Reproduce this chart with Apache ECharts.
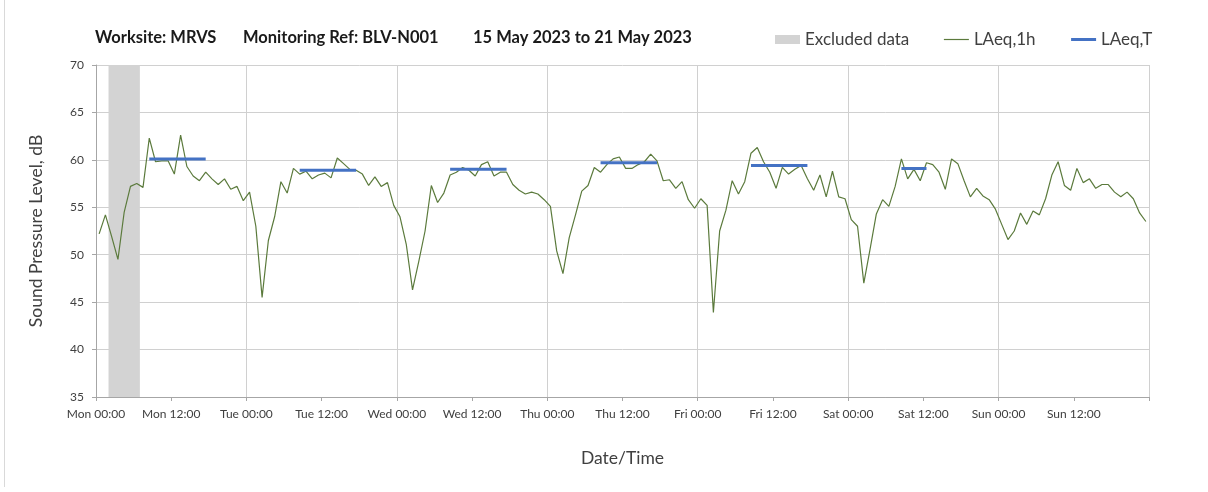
<!DOCTYPE html>
<html>
<head>
<meta charset="utf-8">
<title>Noise monitoring BLV-N001</title>
<script src="https://cdn.jsdelivr.net/npm/echarts@6/dist/echarts.min.js"></script>
<style>
  html, body { margin: 0; padding: 0; background: #fff; }
  #chart { width: 1208px; height: 492px; }
</style>
</head>
<body>
<div id="chart"></div>
<script>
'use strict';
// hourly LAeq,1h, Mon 00:00 .. Sun 23:00 (plotted at the middle of each hour)
var laeq1h = [
  52.2, 54.2, 51.9, 49.5, 54.5, 57.2, 57.5, 57.1, 62.3, 59.8, 59.9, 59.9, 58.5, 62.6, 59.3, 58.3, 57.8, 58.7, 58.0, 57.4, 58.0, 56.9, 57.2, 55.7,
  56.6, 53.0, 45.5, 51.5, 54.0, 57.7, 56.5, 59.1, 58.5, 58.8, 58.0, 58.4, 58.6, 58.1, 60.2, 59.6, 59.0, 58.9, 58.5, 57.3, 58.2, 57.2, 57.6, 55.2,
  54.0, 51.1, 46.3, 49.3, 52.5, 57.3, 55.5, 56.5, 58.4, 58.7, 59.2, 58.9, 58.3, 59.5, 59.8, 58.3, 58.7, 58.7, 57.4, 56.8, 56.4, 56.6, 56.4, 55.8,
  55.1, 50.4, 48.0, 51.8, 54.2, 56.7, 57.3, 59.2, 58.7, 59.5, 60.1, 60.3, 59.1, 59.1, 59.5, 59.8, 60.6, 59.9, 57.8, 57.9, 57.0, 57.7, 55.8, 54.9,
  55.9, 55.2, 43.9, 52.5, 54.7, 57.8, 56.4, 57.7, 60.7, 61.3, 59.8, 58.7, 57.0, 59.2, 58.5, 59.0, 59.4, 58.0, 56.8, 58.4, 56.1, 58.8, 56.1, 55.9,
  53.7, 53.0, 47.0, 50.6, 54.3, 55.8, 55.1, 57.2, 60.1, 58.0, 59.0, 57.8, 59.7, 59.5, 58.7, 56.9, 60.1, 59.6, 57.8, 56.1, 57.0, 56.2, 55.8, 54.8,
  53.2, 51.6, 52.5, 54.4, 53.2, 54.6, 54.2, 55.9, 58.4, 59.8, 57.3, 56.8, 59.1, 57.6, 58.0, 57.0, 57.4, 57.4, 56.6, 56.1, 56.6, 55.9, 54.4, 53.5
];

// LAeq,T for the working periods (hours from Mon 00:00)
var laeqT = [60.1, 58.9, 59.0, 59.7, 59.4, 59.1];
var periodStart = [8, 32, 56, 80, 104, 128];
var periodEnd = [18, 42, 66, 90, 114, 133];

// excluded period, hours from Mon 00:00
var excludedFrom = 2;
var excludedTo = 7;

var dayNames = ['Mon', 'Tue', 'Wed', 'Thu', 'Fri', 'Sat', 'Sun'];
var yTicks = [35, 40, 45, 50, 55, 60, 65, 70];

var fontName = 'Lato';
var textColor = '#404040';
var gridColor = '#d0d0d0';
var greenColor = '#5b7a3c';
var blueColor = '#4472c4';

var lineData = laeq1h.map(function (v, i) {
  return [i + 0.5, v];
});

var series = [{
  name: 'Excluded data',
  type: 'line',
  data: [],
  color: '#d3d3d3',
  markArea: {
    silent: true,
    itemStyle: { color: '#d3d3d3' },
    data: [[{ xAxis: excludedFrom }, { xAxis: excludedTo }]]
  }
}, {
  name: 'LAeq,1h',
  type: 'line',
  data: lineData,
  symbol: 'none',
  color: greenColor,
  lineStyle: { width: 1.2, color: greenColor },
  z: 3
}];

for (var p = 0; p < laeqT.length; p++) {
  series.push({
    name: 'LAeq,T',
    type: 'line',
    data: [[periodStart[p] + 0.5, laeqT[p]], [periodEnd[p] - 0.5, laeqT[p]]],
    symbol: 'none',
    color: blueColor,
    lineStyle: { width: 3, color: blueColor },
    z: 4
  });
}

var chart = echarts.init(document.getElementById('chart'));
chart.setOption({
  animation: false,
  backgroundColor: '#fff',
  textStyle: { fontFamily: fontName },
  title: {
    text: '{a|Worksite: MRVS}{b|Monitoring Ref: BLV-N001}{c|15 May 2023 to 21 May 2023}',
    left: 95,
    top: 29,
    padding: 0,
    textStyle: {
      fontFamily: fontName,
      fontSize: 16.5,
      fontWeight: 'bold',
      color: '#1a1a1a',
      rich: {
        a: { width: 148, fontFamily: fontName, fontSize: 16.5, fontWeight: 'bold', color: '#1a1a1a' },
        b: { width: 230, fontFamily: fontName, fontSize: 16.5, fontWeight: 'bold', color: '#1a1a1a' },
        c: { fontFamily: fontName, fontSize: 16.5, fontWeight: 'bold', color: '#1a1a1a' }
      }
    }
  },
  legend: {
    left: 775,
    top: 31,
    padding: 0,
    itemWidth: 25,
    itemHeight: 9,
    itemGap: 34,
    textStyle: { fontFamily: fontName, fontSize: 17, color: textColor },
    data: [
      { name: 'Excluded data', icon: 'rect' },
      { name: 'LAeq,1h', itemStyle: { opacity: 0 }, lineStyle: { width: 1.2, color: greenColor } },
      { name: 'LAeq,T', itemStyle: { opacity: 0 }, lineStyle: { width: 3, color: blueColor } }
    ]
  },
  grid: { left: 96, right: 59, top: 65, bottom: 95 },
  xAxis: [{
    type: 'value',
    min: 0,
    max: 168,
    interval: 12,
    name: 'Date/Time',
    nameLocation: 'middle',
    nameGap: 52,
    nameTextStyle: { fontFamily: fontName, fontSize: 17.5, color: textColor },
    axisLine: { show: true, lineStyle: { color: '#a6a6a6' } },
    axisTick: { show: true, length: 4, lineStyle: { color: '#a6a6a6' } },
    axisLabel: {
      margin: 11,
      fontSize: 12,
      color: textColor,
      formatter: function (v) {
        if (v >= 168) return '';
        return dayNames[Math.floor(v / 24)] + (v % 24 === 0 ? ' 00:00' : ' 12:00');
      }
    },
    splitLine: { show: false }
  }, {
    // day boundaries only
    type: 'value',
    position: 'top',
    min: 0,
    max: 168,
    interval: 24,
    axisLine: { show: false },
    axisTick: { show: false },
    axisLabel: { show: false },
    splitLine: { show: true, lineStyle: { color: gridColor } }
  }],
  yAxis: {
    type: 'value',
    min: yTicks[0],
    max: yTicks[yTicks.length - 1],
    interval: 5,
    name: 'Sound Pressure Level, dB',
    nameLocation: 'middle',
    nameGap: 51,
    nameTextStyle: { fontFamily: fontName, fontSize: 17.5, color: textColor },
    axisLine: { show: true, lineStyle: { color: '#a6a6a6' } },
    axisTick: { show: true, length: 4, lineStyle: { color: '#a6a6a6' } },
    axisLabel: { margin: 12, fontSize: 12, color: textColor },
    splitLine: { show: true, lineStyle: { color: gridColor } }
  },
  graphic: [{
    type: 'line',
    shape: { x1: 4.5, y1: 0, x2: 4.5, y2: 487 },
    style: { stroke: '#d9d9d9', lineWidth: 1 }
  }],
  series: series
});
</script>
</body>
</html>
